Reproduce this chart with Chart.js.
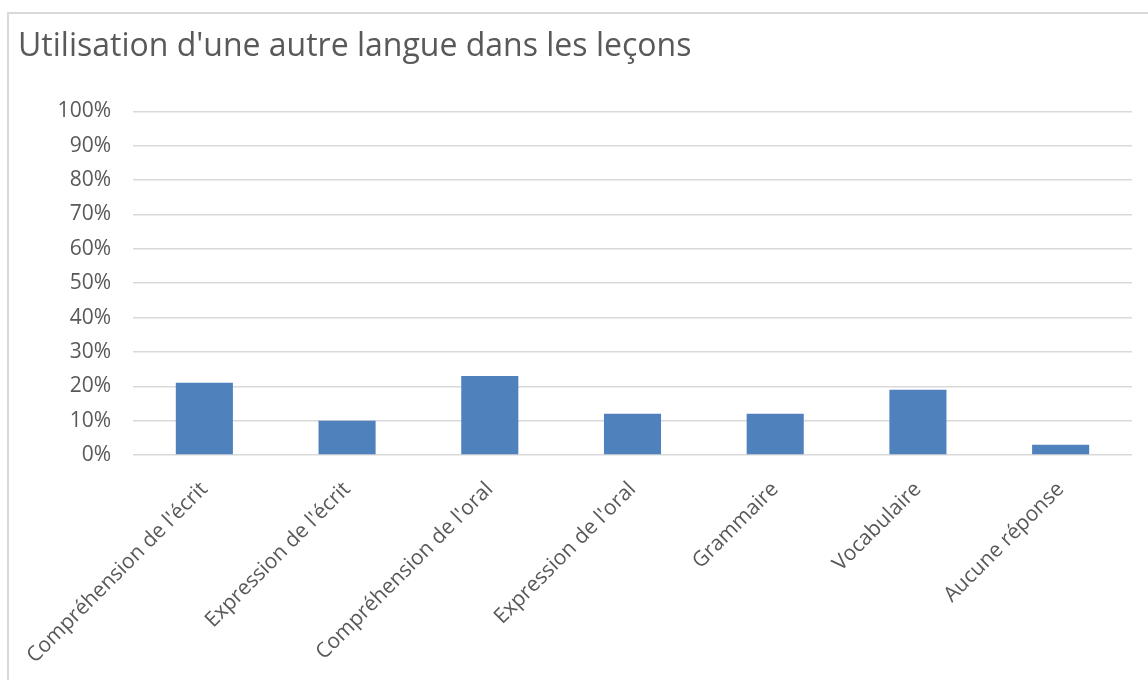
<!DOCTYPE html>
<html>
<head>
<meta charset="utf-8">
<script src="https://cdn.jsdelivr.net/npm/chart.js@4"></script>
<style>
  html, body { margin: 0; padding: 0; background: #fff; }
  #frame { position: absolute; left: 7px; top: 12px; width: 1150px; height: 680px; border: 2px solid #d9d9d9; box-sizing: border-box; }
  #wrap { position: absolute; left: 0; top: 0; width: 1148px; height: 680px; }
</style>
</head>
<body>
<div id="frame"></div>
<div id="wrap"><canvas id="bar-chart"></canvas></div>
<script>
const categories = ["Compréhension de l'écrit", "Expression de l'écrit", "Compréhension de l'oral", "Expression de l'oral", "Grammaire", "Vocabulaire", "Aucune réponse"];
const usage = [21, 10, 23, 12, 12, 19, 3];
const yTicks = [0, 10, 20, 30, 40, 50, 60, 70, 80, 90, 100];

const textColor = "#595959";
const font = "'Open Sans', sans-serif";

new Chart(document.getElementById("bar-chart"), {
  type: 'bar',
  data: {
    labels: categories,
    datasets: [{
      label: "Utilisation",
      data: usage,
      backgroundColor: "#4f81bd",
      categoryPercentage: 0.8,
      barPercentage: 0.5
    }]
  },
  options: {
    responsive: true,
    maintainAspectRatio: false,
    animation: false,
    layout: { padding: { left: 18, right: 16, top: 0, bottom: 0 } },
    plugins: {
      legend: { display: false },
      tooltip: { enabled: false },
      title: {
        display: true,
        text: "Utilisation d'une autre langue dans les leçons",
        align: 'start',
        color: textColor,
        font: { family: font, size: 32, weight: 'normal' },
        padding: { top: 28, bottom: 45 }
      }
    },
    scales: {
      x: {
        grid: { display: false },
        border: { display: false },
        ticks: {
          color: textColor,
          font: { family: font, size: 21 },
          minRotation: 45,
          maxRotation: 45,
          autoSkip: false,
          padding: 14
        },
        afterFit: (scale) => { scale.height = 225; }
      },
      y: {
        min: 0,
        max: 100,
        afterBuildTicks: (scale) => { scale.ticks = yTicks.map(v => ({ value: v })); },
        grid: { color: "#d9d9d9", lineWidth: 1.5, drawTicks: false },
        border: { display: false },
        ticks: {
          color: textColor,
          font: { family: font, size: 21 },
          padding: 22,
          callback: (v) => v + '%'
        },
        afterFit: (scale) => { scale.width = 115; }
      }
    }
  }
});
</script>
</body>
</html>
